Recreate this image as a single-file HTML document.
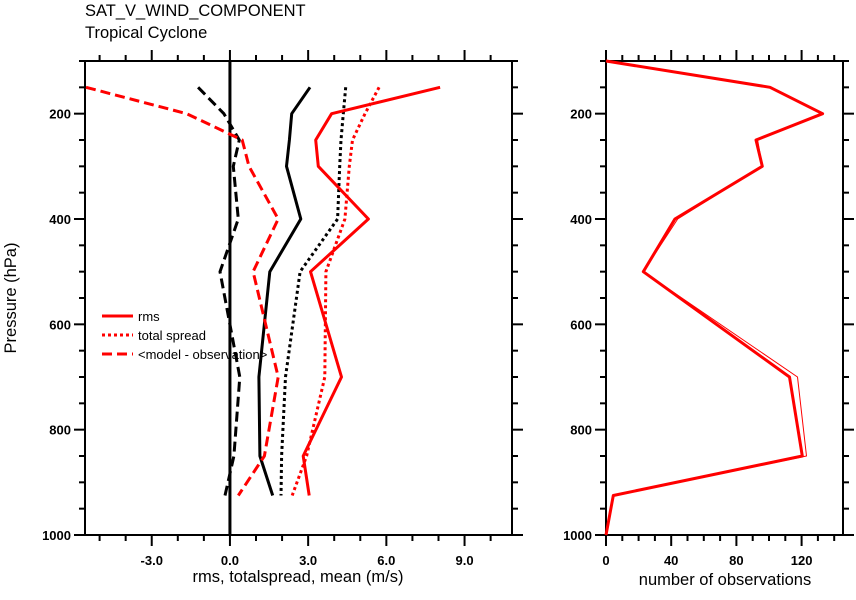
<!DOCTYPE html>
<html><head><meta charset="utf-8"><style>
html,body{margin:0;padding:0;background:#fff;}
svg{display:block;font-family:"Liberation Sans",sans-serif;}
</style></head><body>
<svg id="c" width="856" height="600" viewBox="0 0 856 600">
<text x="85" y="16" font-size="16.5">SAT_V_WIND_COMPONENT</text>
<text x="85" y="38" font-size="16.5">Tropical Cyclone</text>
<text transform="translate(16,298) rotate(-90)" text-anchor="middle" font-size="16.5">Pressure (hPa)</text>
<text x="298" y="582" text-anchor="middle" font-size="16.5">rms, totalspread, mean (m/s)</text>
<text x="725" y="585" text-anchor="middle" font-size="16.5">number of observations</text>
</svg>
<script>
const levels=[150,200,250,300,400,500,700,850,925];
const rmsRed=[8.06,3.9,3.29,3.39,5.31,3.09,4.28,2.81,3.04];
const spreadRed=[5.72,5.18,4.7,4.58,4.41,3.68,3.64,2.94,2.39];
const meanRed=[-5.52,-1.66,0.47,0.73,1.85,0.89,1.85,1.32,0.32];
const rmsBlack=[3.07,2.37,2.28,2.17,2.72,1.53,1.11,1.15,1.64];
const spreadBlack=[4.44,4.35,4.26,4.21,4.13,2.69,2.13,1.98,1.96];
const meanBlack=[-1.22,-0.23,0.36,0.13,0.32,-0.38,0.38,0.15,-0.19];
const obsLevels=[100,150,200,250,300,400,500,700,850,925,1000];
const obsThick=[0,100.6,132.9,92,95.9,42.3,22.9,112.6,120.4,4.5,0];
const obsThin=[0,100.6,132.9,93,95.9,44,22.9,117.5,123,4.5,0];
const pTicks=[200,400,600,800,1000];
const xTicks=[-3,0,3,6,9];
const xTickLabels=["-3.0","0.0","3.0","6.0","9.0"];
const obsTicks=[0,40,80,120];

const svg=document.getElementById('c');
const NS='http://www.w3.org/2000/svg';
const L={x0:85,x1:512,y0:61,y1:535,xmin:-5.56,xmax:10.82};
const R={x0:606,x1:843,y0:61,y1:535,xmin:0,xmax:145.4};
function yP(p,P){return P.y0+(p-100)/900*(P.y1-P.y0);}
function xV(v,P){return P.x0+(v-P.xmin)/(P.xmax-P.xmin)*(P.x1-P.x0);}
function mk(tag,attrs){const e=document.createElementNS(NS,tag);for(const k in attrs)e.setAttribute(k,attrs[k]);svg.appendChild(e);return e;}

function frame(P,prefix,xt,xl,xminor){
  const f=mk('rect',{x:P.x0,y:P.y0,width:P.x1-P.x0,height:P.y1-P.y0,fill:'none',stroke:'#000','stroke-width':2});
  
  
  for(let p=100;p<=1000;p+=50){
    const y=yP(p,P);const major=p%200===0;const len=major?11:6;
    const t1=mk('line',{x1:P.x0-len,x2:P.x0,y1:y,y2:y,stroke:'#000','stroke-width':2});
    
    
    const t2=mk('line',{x1:P.x1,x2:P.x1+len,y1:y,y2:y,stroke:'#000','stroke-width':2});
    
    
  }
  pTicks.forEach(p=>{
    const t=mk('text',{x:P.x0-14,y:yP(p,P)+5,'text-anchor':'end','font-size':13,'font-weight':'bold'});
    t.textContent=p;
    
    
  });
  for(let v=Math.ceil(P.xmin/xminor)*xminor;v<=P.xmax+1e-9;v+=xminor){
    const x=xV(v,P);const major=xt.some(m=>Math.abs(m-v)<1e-6);const len=major?11:6;
    const b=mk('line',{x1:x,x2:x,y1:P.y1,y2:P.y1+len,stroke:'#000','stroke-width':2});
    
    
    const t=mk('line',{x1:x,x2:x,y1:P.y0-len,y2:P.y0,stroke:'#000','stroke-width':2});
    
    
  }
  xt.forEach((v,i)=>{
    const t=mk('text',{x:xV(v,P),y:P.y1+30,'text-anchor':'middle','font-size':13,'font-weight':'bold'});
    t.textContent=xl[i];
    
    
  });
}
frame(L,'left',xTicks,xTickLabels,1);
frame(R,'right',obsTicks,obsTicks.map(String),10);

const z=mk('line',{x1:xV(0,L),x2:xV(0,L),y1:L.y0,y2:L.y1,stroke:'#000','stroke-width':3});



function series(vals,lv,P,color,dash,w,name){
  const pts=vals.map((v,i)=>xV(v,P).toFixed(1)+','+yP(lv[i],P).toFixed(1)).join(' ');
  const e=mk('polyline',{points:pts,fill:'none',stroke:color,'stroke-width':w,'stroke-dasharray':dash,'stroke-linejoin':'round'});
  
  
}
const DASH='10,5',DOT='3,3';
series(rmsBlack,levels,L,'#000','none',3,'rms-black-line');
series(spreadBlack,levels,L,'#000',DOT,3,'spread-black-line');
series(meanBlack,levels,L,'#000',DASH,3,'mean-black-line');
series(rmsRed,levels,L,'#f00','none',3,'rms-red-line');
series(spreadRed,levels,L,'#f00',DOT,3,'spread-red-line');
series(meanRed,levels,L,'#f00',DASH,3,'mean-red-line');
series(obsThin,obsLevels,R,'#f00','none',1,'obs-count-thin-line');
series(obsThick,obsLevels,R,'#f00','none',3,'obs-count-line');

const leg=[['rms','none'],['total spread',DOT],['<model - observation>',DASH]];
leg.forEach((l,i)=>{
  const y=316+i*19;
  const ln=mk('line',{x1:102,x2:133,y1:y,y2:y,stroke:'#f00','stroke-width':3,'stroke-dasharray':l[1]});
  
  
  const t=mk('text',{x:138,y:y+5,'font-size':13});
  t.textContent=l[0];
  
  
});
</script>
</body></html>
